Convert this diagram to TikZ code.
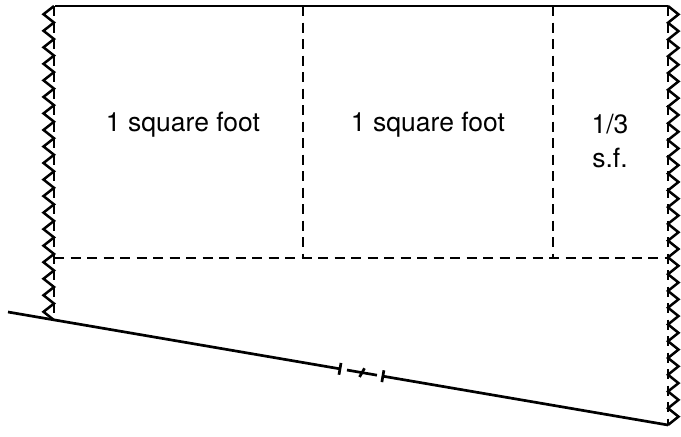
\documentclass[tikz,border=0pt]{standalone}
\usepackage{fontspec}
\setmainfont{TeX Gyre Heros}
\usetikzlibrary{calc}
\begin{document}
\begin{tikzpicture}[x=1pt,y=-1pt,
  edge/.style={line width=2.7pt},
  dashline/.style={line width=2.5pt,dash pattern=on 10pt off 6.5pt},
  zig/.style={line width=2.5pt,line join=miter},
  lbl/.style={font=\fontsize{26.5}{34}\selectfont,align=center,inner sep=0pt}]
\useasboundingbox (0,0) rectangle (681,437);
% outline
\draw[edge] (55,6) -- (668,6);
\draw[dashline] (54,6) -- (54,320);
\draw[dashline] (668,6) -- (668,425);
\draw[dashline] (54,258) -- (668,258);
\draw[dashline] (303,6) -- (303,258);
\draw[dashline] (553,6) -- (553,258);
% zigzags
\draw[zig] (54,6) \foreach \i in {0,...,18} {-- (43.5,{6+16.53*\i+8.26}) -- (54,{6+16.53*(\i+1)})};
\draw[zig] (668,6) \foreach \i in {0,...,24} {-- (678.5,{6+16.76*\i+8.38}) -- (668,{6+16.76*(\i+1)})};
% bottom line with break
\coordinate (A) at (8,312);
\coordinate (B) at (668,425);
\coordinate (P1) at ($(A)!0.503!(B)$);
\coordinate (P2) at ($(A)!0.5136!(B)$);
\coordinate (PM) at ($(A)!0.5364!(B)$);
\coordinate (P3) at ($(A)!0.559!(B)$);
\coordinate (P4) at ($(A)!0.568!(B)$);
\draw[edge] (A) -- (P1);
\draw[edge] ($(P1)!6pt!90:(B)$) -- ($(P1)!6pt!-90:(B)$);
\draw[edge] (P2) -- (P3);
\draw[edge] ($(PM)!5pt!70:(B)$) -- ($(PM)!5pt!-110:(B)$);
\draw[edge] (P4) -- (B);
\draw[edge] ($(P4)!6pt!90:(B)$) -- ($(P4)!6pt!-90:(B)$);
% labels
\node[lbl] (t1) at (183,125) {1 square foot};
\node[lbl] (t2) at (428,125) {1 square foot};
\node[lbl] (t3) at (610,141) {1/3\\s.f.};
\end{tikzpicture}
\end{document}
